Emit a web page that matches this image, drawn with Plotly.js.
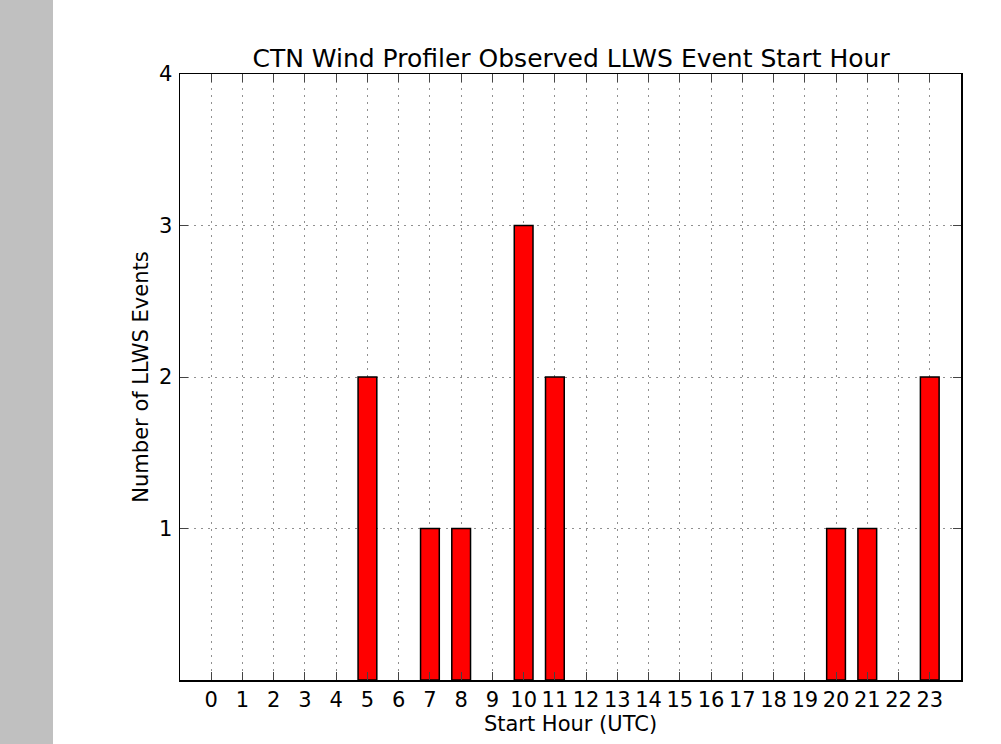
<!DOCTYPE html>
<html>
<head>
<meta charset="utf-8">
<script src="https://cdn.plot.ly/plotly-3.0.1.min.js"></script>
<style>
  html, body { margin: 0; padding: 0; }
  body { width: 1001px; height: 744px; background: linear-gradient(to right, #c0c0c0 0px, #c0c0c0 53px, #ffffff 53px); }
  #chart { width: 1001px; height: 744px; }
</style>
</head>
<body>
<div id="chart"></div>
<script>
const hours = [0,1,2,3,4,5,6,7,8,9,10,11,12,13,14,15,16,17,18,19,20,21,22,23];
const counts = [0,0,0,0,0,2,0,1,1,0,3,2,0,0,0,0,0,0,0,0,1,1,0,2];
const yTicks = [1,2,3,4];
const titleText = 'CTN Wind Profiler Observed LLWS Event Start Hour';
const xTitle = 'Start Hour (UTC)';
const yTitle = 'Number of LLWS Events';

const font = 'DejaVu Sans, sans-serif';

const trace = {
  type: 'bar',
  x: hours,
  y: counts.map(v => (v === 0 ? null : v)),
  width: 0.6,
  marker: { color: '#ff0000', line: { color: '#000000', width: 1.5 } },
  hoverinfo: 'x+y'
};

const axisCommon = {
  showline: true, linecolor: '#000000', linewidth: 1.5, mirror: 'ticks',
  ticks: 'inside', ticklen: 8, tickcolor: '#444444', tickwidth: 1,
  showgrid: true, gridcolor: '#909090', griddash: '1.5px,5.5px', gridwidth: 1,
  zeroline: false,
  tickfont: { family: font, size: 21, color: '#000000' }
};

const layout = {
  width: 1001, height: 744,
  margin: { l: 180, r: 40, t: 74, b: 64 },
  paper_bgcolor: 'rgba(0,0,0,0)',
  plot_bgcolor: '#ffffff',
  showlegend: false,
  bargap: 0,
  title: { text: titleText, font: { family: font, size: 25, color: '#000000' }, x: 0.5705, xanchor: 'center', y: 0.922, yanchor: 'middle' },
  xaxis: Object.assign({}, axisCommon, {
    range: [-1, 24], tickmode: 'array', tickvals: hours, ticktext: hours.map(String),
    ticklabelstandoff: 0,
    title: { text: xTitle, font: { family: font, size: 21, color: '#000000' }, standoff: 2 }
  }),
  yaxis: Object.assign({}, axisCommon, {
    range: [0, 4], tickmode: 'array', tickvals: yTicks, ticktext: yTicks.map(String),
    ticklabelstandoff: 2,
    title: { text: yTitle, font: { family: font, size: 21, color: '#000000' }, standoff: 4 }
  })
};

Plotly.newPlot('chart', [trace], layout, { displayModeBar: false, staticPlot: true });
</script>
</body>
</html>
